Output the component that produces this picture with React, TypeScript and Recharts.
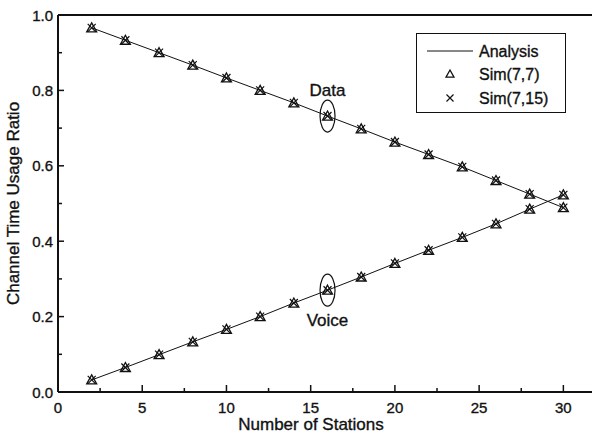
import { ComposedChart, Line, XAxis, YAxis, ReferenceLine, ReferenceDot, Label } from 'recharts'

const stations = [2, 4, 6, 8, 10, 12, 14, 16, 18, 20, 22, 24, 26, 28, 30]

// Data traffic
const analysisData = [0.966, 0.933, 0.900, 0.867, 0.833, 0.800, 0.767, 0.732, 0.698, 0.663, 0.630, 0.597, 0.561, 0.525, 0.489]
const sim77Data = [0.966, 0.933, 0.900, 0.867, 0.833, 0.800, 0.767, 0.732, 0.698, 0.663, 0.630, 0.597, 0.561, 0.525, 0.489]
const sim715Data = [0.966, 0.933, 0.900, 0.867, 0.833, 0.800, 0.767, 0.732, 0.698, 0.663, 0.630, 0.597, 0.561, 0.525, 0.489]

// Voice traffic
const analysisVoice = [0.032, 0.065, 0.099, 0.133, 0.166, 0.200, 0.236, 0.270, 0.305, 0.341, 0.376, 0.410, 0.446, 0.485, 0.523]
const sim77Voice = [0.032, 0.065, 0.099, 0.133, 0.166, 0.200, 0.236, 0.270, 0.305, 0.341, 0.376, 0.410, 0.446, 0.485, 0.523]
const sim715Voice = [0.032, 0.065, 0.099, 0.133, 0.166, 0.200, 0.236, 0.270, 0.305, 0.341, 0.376, 0.410, 0.446, 0.485, 0.523]

const xTicks = [0, 2.5, 5, 7.5, 10, 12.5, 15, 17.5, 20, 22.5, 25, 27.5, 30]
const yTicks = [0, 0.1, 0.2, 0.3, 0.4, 0.5, 0.6, 0.7, 0.8, 0.9, 1.0]

const rows = stations.map((n, i) => ({
  n,
  analysisData: analysisData[i],
  sim77Data: sim77Data[i],
  sim715Data: sim715Data[i],
  analysisVoice: analysisVoice[i],
  sim77Voice: sim77Voice[i],
  sim715Voice: sim715Voice[i],
}))

const FONT = '"Liberation Sans", Arial, Helvetica, sans-serif'
const INK = '#111'
// scanned print looks a bit heavier than plain Arial
const txt = { fontFamily: FONT, fill: INK, stroke: INK, strokeWidth: 0.35 }

function Triangle(props: any) {
  const { cx, cy, s = 5 } = props
  if (cx == null || cy == null) return null
  return <path d={`M${cx},${cy - s} L${cx + s},${cy + s * 0.8} L${cx - s},${cy + s * 0.8} Z`} fill="none" stroke={INK} strokeWidth={1.3} />
}

function Cross(props: any) {
  const { cx, cy, s = 4 } = props
  if (cx == null || cy == null) return null
  return <path d={`M${cx - s},${cy - s} L${cx + s},${cy + s} M${cx + s},${cy - s} L${cx - s},${cy + s}`} stroke={INK} strokeWidth={1.2} />
}

function XTick(props: any) {
  const { x, y, payload } = props
  const major = payload.value % 5 === 0
  return (
    <g>
      <line x1={x} y1={y} x2={x} y2={y - (major ? 7 : 4)} stroke={INK} strokeWidth={1.5} />
      {major && (
        <text x={x} y={y + 15} textAnchor="middle" dominantBaseline="central" fontSize={15} {...txt}>
          {payload.value}
        </text>
      )}
    </g>
  )
}

function YTick(props: any) {
  const { x, y, payload } = props
  const major = Math.round(payload.value * 10) % 2 === 0
  return (
    <g>
      <line x1={x} y1={y} x2={x + (major ? 6 : 4)} y2={y} stroke={INK} strokeWidth={1.5} />
      {major && (
        <text x={x - 5} y={y} textAnchor="end" dominantBaseline="central" fontSize={15} {...txt}>
          {payload.value.toFixed(1)}
        </text>
      )}
    </g>
  )
}

function Ellipse(label: string, below: boolean) {
  return (props: any) => {
    const { cx, cy } = props
    return (
      <g>
        <ellipse cx={cx} cy={cy} rx={7.5} ry={16} fill="none" stroke={INK} strokeWidth={1.2} />
        <text x={cx} y={below ? cy + 30 : cy - 26} textAnchor="middle" dominantBaseline="central" fontSize={17} {...txt}>
          {label}
        </text>
      </g>
    )
  }
}

function LegendBox() {
  return (
    <div style={{
      position: 'absolute', left: 416, top: 33, width: 148, height: 78,
      border: `1px solid ${INK}`, background: '#fff',
    }}>
      <svg width={148} height={78} style={{ position: 'absolute', left: 0, top: 0 }}>
        <line x1={10} y1={17} x2={56} y2={17} stroke={INK} strokeWidth={1} />
        <Triangle cx={33} cy={40} s={4} />
        <Cross cx={33} cy={64} s={3.5} />
        <text x={62} y={17} dominantBaseline="central" fontSize={16} {...txt}>Analysis</text>
        <text x={62} y={40} dominantBaseline="central" fontSize={16} {...txt}>Sim(7,7)</text>
        <text x={62} y={64} dominantBaseline="central" fontSize={16} {...txt}>Sim(7,15)</text>
      </svg>
    </div>
  )
}

export default function App() {
  return (
    <div style={{ position: 'absolute', left: 0, top: 0, width: 592, height: 435, background: '#fff' }}>
      <ComposedChart width={592} height={435} data={rows} margin={{ top: 15, right: 0, bottom: 0, left: 0 }}>
        <XAxis
          dataKey="n" type="number" domain={[0, 31.7]} ticks={xTicks} interval={0}
          height={43} tickSize={0} tickMargin={0} tickLine={false}
          axisLine={{ stroke: INK, strokeWidth: 2 }} tick={<XTick />}
        >
          <Label content={(p: any) => (
            <text x={311} y={p.viewBox.y + 32} textAnchor="middle" dominantBaseline="central" fontSize={17} {...txt}>
              Number of Stations
            </text>
          )} />
        </XAxis>
        <YAxis
          type="number" domain={[0, 1]} ticks={yTicks} interval={0}
          width={58} tickSize={0} tickMargin={0} tickLine={false}
          axisLine={{ stroke: INK, strokeWidth: 2 }} tick={<YTick />}
        >
          <Label content={(p: any) => {
            const cy = p.viewBox.y + p.viewBox.height / 2
            return (
              <text x={13} y={cy} transform={`rotate(-90 13 ${cy})`} textAnchor="middle" dominantBaseline="central" fontSize={17} {...txt}>
                Channel Time Usage Ratio
              </text>
            )
          }} />
        </YAxis>
        <ReferenceLine y={1} stroke={INK} strokeWidth={2} />

        <Line dataKey="analysisData" stroke={INK} strokeWidth={1} dot={false} isAnimationActive={false} />
        <Line dataKey="analysisVoice" stroke={INK} strokeWidth={1} dot={false} isAnimationActive={false} />
        <Line dataKey="sim77Data" stroke="none" dot={<Triangle />} activeDot={false} isAnimationActive={false} />
        <Line dataKey="sim715Data" stroke="none" dot={<Cross />} activeDot={false} isAnimationActive={false} />
        <Line dataKey="sim77Voice" stroke="none" dot={<Triangle />} activeDot={false} isAnimationActive={false} />
        <Line dataKey="sim715Voice" stroke="none" dot={<Cross />} activeDot={false} isAnimationActive={false} />

        <ReferenceDot x={16} y={analysisData[7]} shape={Ellipse('Data', false)} />
        <ReferenceDot x={16} y={analysisVoice[7]} shape={Ellipse('Voice', true)} />
      </ComposedChart>
      <LegendBox />
    </div>
  )
}
